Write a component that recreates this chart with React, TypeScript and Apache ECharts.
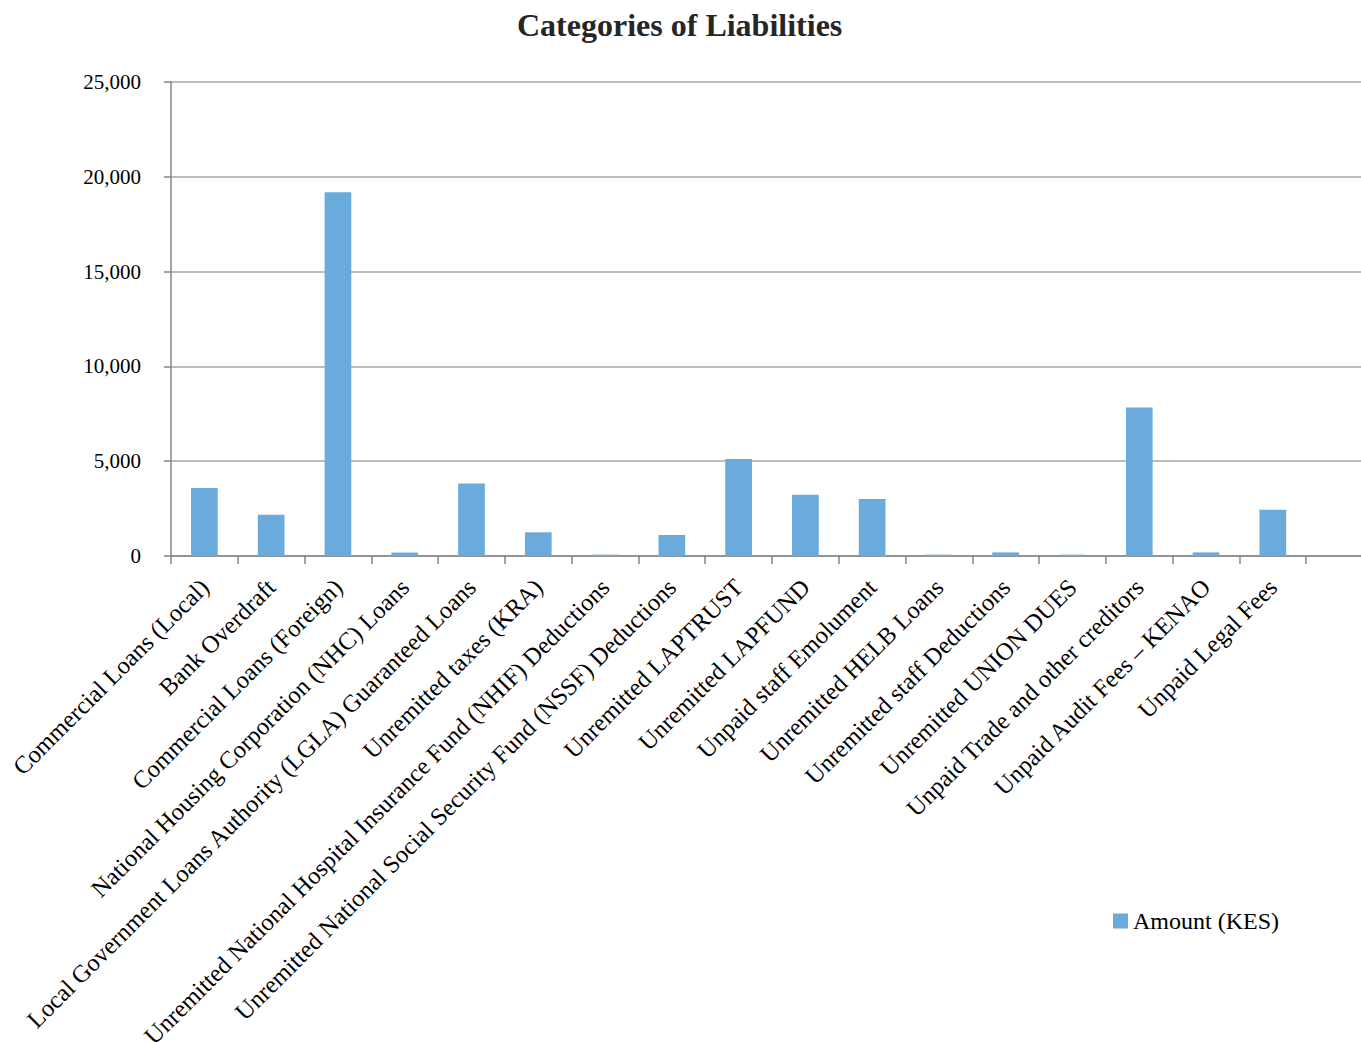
import React, { useEffect, useRef } from "react";
import * as echarts from "echarts";

const categories: string[] = [
  "Commercial Loans (Local)",
  "Bank Overdraft",
  "Commercial Loans (Foreign)",
  "National Housing Corporation (NHC) Loans",
  "Local Government Loans Authority (LGLA) Guaranteed Loans",
  "Unremitted taxes (KRA)",
  "Unremitted National Hospital Insurance Fund (NHIF) Deductions",
  "Unremitted National Social Security Fund (NSSF) Deductions",
  "Unremitted LAPTRUST",
  "Unremitted LAPFUND",
  "Unpaid staff Emolument",
  "Unremitted HELB Loans",
  "Unremitted staff Deductions",
  "Unremitted UNION DUES",
  "Unpaid Trade and other creditors",
  "Unpaid Audit Fees – KENAO",
  "Unpaid Legal Fees",
  "",
];

const amounts: (number | null)[] = [
  3590, 2170, 19190, 180, 3820, 1250, 70, 1110, 5110, 3230, 3000, 70, 190, 70,
  7830, 190, 2440, null,
];

const seriesName = "Amount (KES)";
const yMin = 0;
const yMax = 25000;
const yStep = 5000;

const FONT = "'Liberation Serif', 'Times New Roman', serif";

export default function App() {
  const ref = useRef<HTMLDivElement>(null);
  useEffect(() => {
    if (!ref.current) return;
    const chart = echarts.init(ref.current, null, { renderer: "svg" });
    chart.setOption({
      animation: false,
      backgroundColor: "#ffffff",
      title: {
        text: "Categories of Liabilities",
        left: 512,
        top: 4,
        textStyle: {
          fontFamily: FONT,
          fontWeight: "bold",
          fontSize: 32,
          color: "#262626",
        },
      },
      grid: {
        left: 171,
        top: 82,
        right: 0,
        bottom: 486,
        containLabel: false,
        outerBoundsMode: "none",
      },
      legend: {
        data: [seriesName],
        left: 1108,
        top: 904,
        icon: "rect",
        itemWidth: 15,
        itemHeight: 15,
        itemGap: 7,
        textStyle: { fontFamily: FONT, fontSize: 24, color: "#000" },
      },
      xAxis: {
        type: "category",
        data: categories,
        axisLine: { show: true, lineStyle: { color: "#868686", width: 1.5 } },
        axisTick: { show: true, length: 8, lineStyle: { color: "#868686", width: 1.5 } },
        axisLabel: {
          rotate: 45,
          interval: 0,
          fontFamily: FONT,
          fontSize: 24.5,
          color: "#000",
          margin: 27,
        },
        splitLine: { show: false },
      },
      yAxis: {
        type: "value",
        min: yMin,
        max: yMax,
        interval: yStep,
        axisLine: { show: true, lineStyle: { color: "#868686", width: 1.5 } },
        axisTick: { show: true, length: 7, lineStyle: { color: "#868686", width: 1.5 } },
        axisLabel: {
          fontFamily: FONT,
          fontSize: 21,
          color: "#000",
          margin: 30,
          formatter: (v: number) => v.toLocaleString("en-US"),
        },
        splitLine: { show: true, lineStyle: { color: "#a6a6a6", width: 1.5 } },
      },
      series: [
        {
          type: "bar",
          name: seriesName,
          data: amounts,
          barWidth: "40%",
          itemStyle: { color: "#6AABDC" },
        },
      ],
    });
    return () => chart.dispose();
  }, []);
  return (
    <div
      style={{
        position: "fixed",
        left: 0,
        top: 0,
        width: 1361,
        height: 1042,
        overflow: "hidden",
        background: "#fff",
      }}
    >
      <div ref={ref} style={{ width: 1373, height: 1042 }} />
    </div>
  );
}
